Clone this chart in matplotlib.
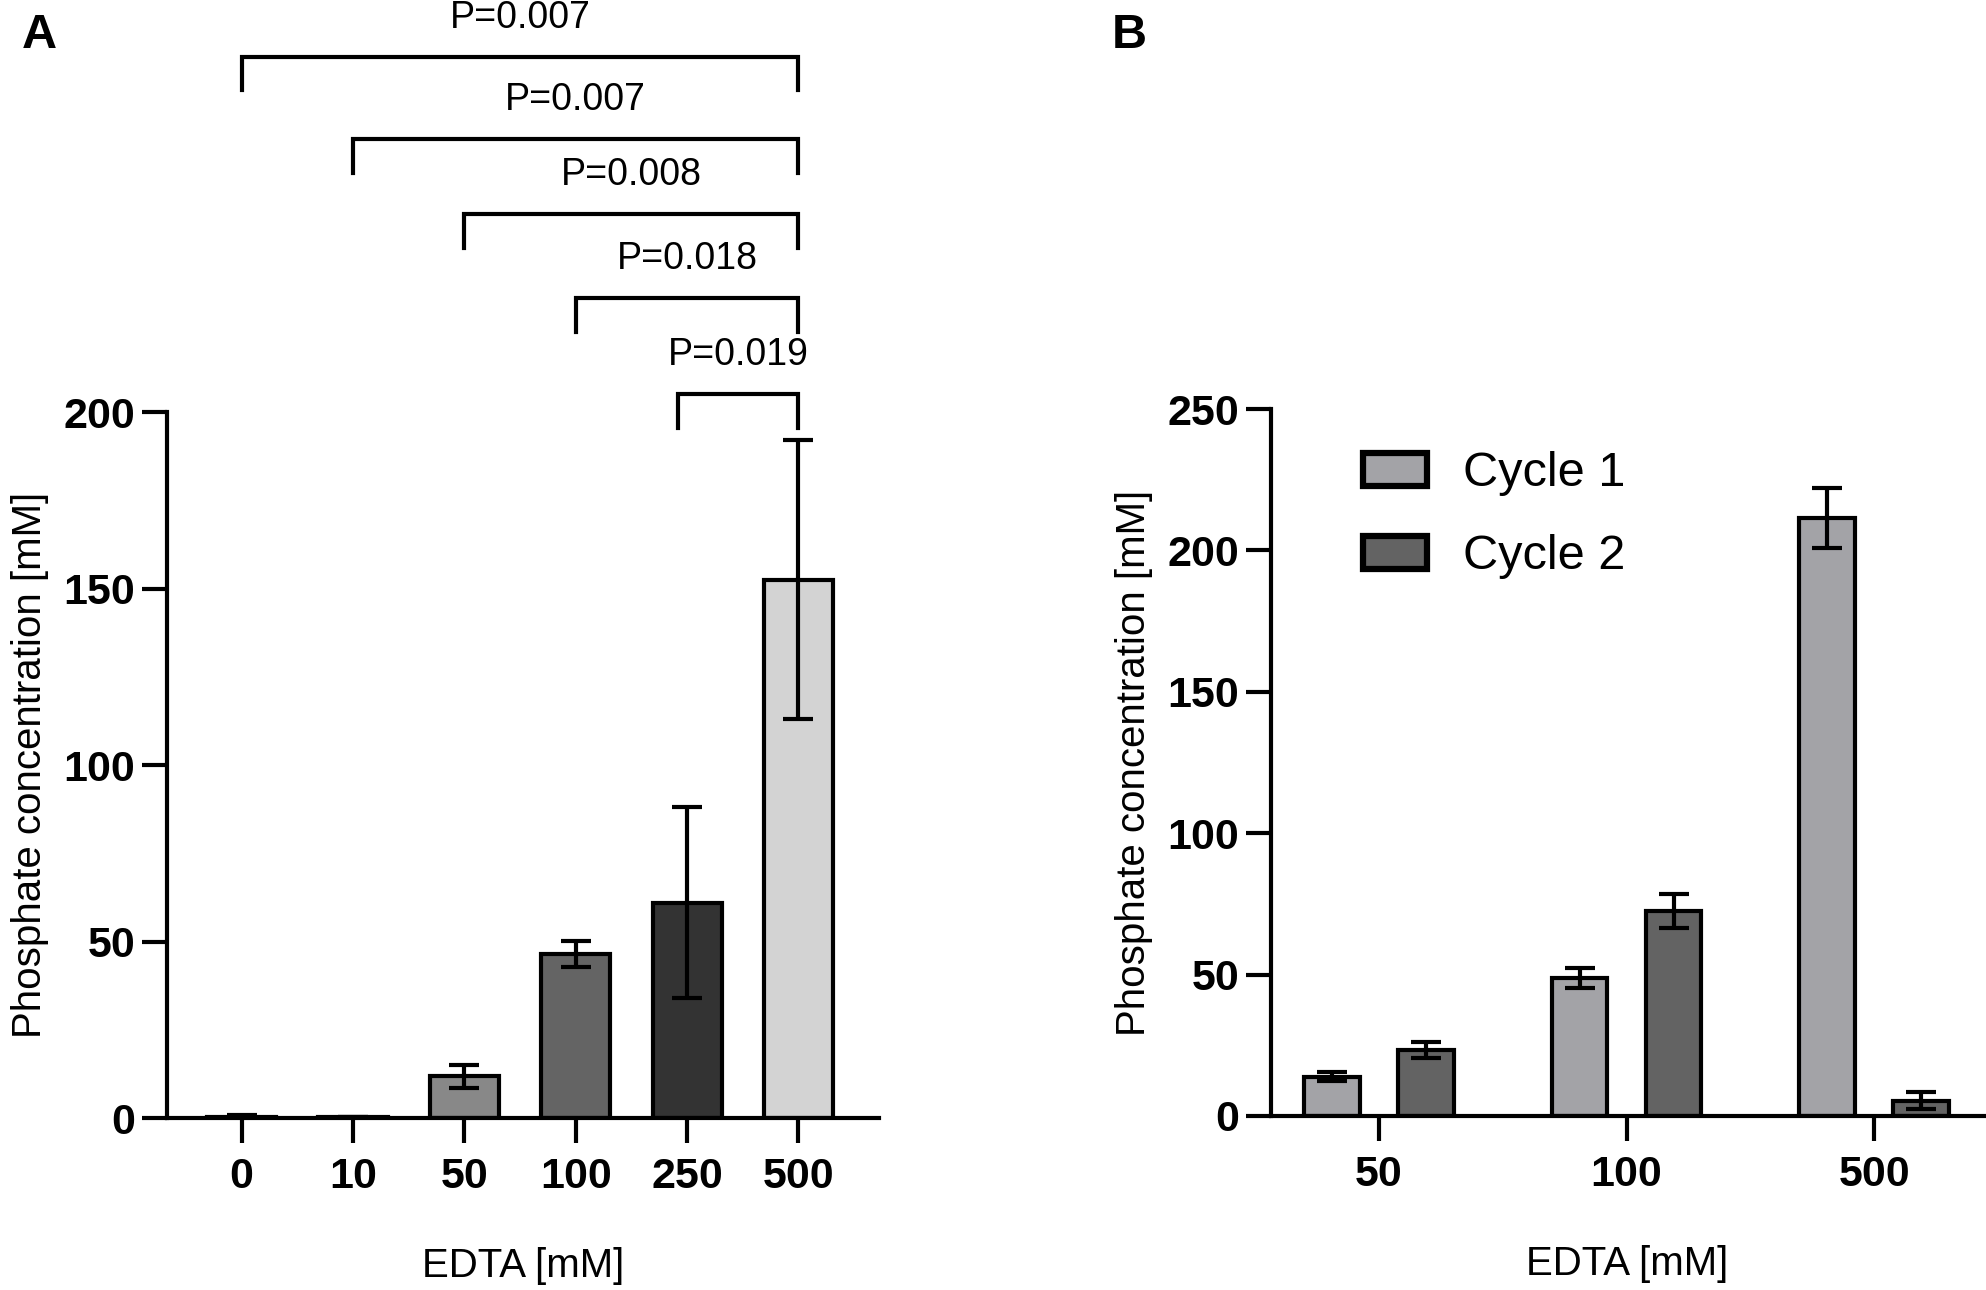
import numpy as np
import matplotlib
matplotlib.use('Agg')
import matplotlib.pyplot as plt

plt.rcParams['font.family'] = ['Liberation Sans', 'DejaVu Sans']

# Panel A data
edta_a = ['0', '10', '50', '100', '250', '500']
phos_a = [0.4, 0.3, 11.8, 46.5, 61.0, 152.5]
err_a = [0.4, 0.0, 3.2, 3.6, 27.0, 39.5]
colors_a = ['#9a9a9a', '#9a9a9a', '#888888', '#646464', '#333333', '#d3d3d3']

# comparisons vs 500 mM: left group index, p-value, bracket height
comp_left = [0, 1, 2, 3, 4]
comp_p = ['P=0.007', 'P=0.007', 'P=0.008', 'P=0.018', 'P=0.019']
comp_y = [300.6, 277.3, 256.1, 232.3, 205.1]

# Panel B data
edta_b = ['50', '100', '500']
cycle1 = [13.9, 48.8, 211.5]
cycle1_err = [1.5, 3.6, 10.7]
cycle2 = [23.3, 72.6, 5.4]
cycle2_err = [2.8, 6.0, 3.0]

LW = 3.0
TICK_FS = 31
LABEL_FS = 29

fig = plt.figure(figsize=(19.86, 12.9), dpi=100)
ax1 = fig.add_axes([0.0841, 0.1333, 0.3583, 0.5473])
ax2 = fig.add_axes([0.640, 0.1349, 0.359, 0.548])


def style_axis(ax):
    for side in ['top', 'right']:
        ax.spines[side].set_visible(False)
    for side in ['left', 'bottom']:
        ax.spines[side].set_linewidth(LW)
    ax.tick_params(axis='both', length=18, width=LW, labelsize=TICK_FS)
    ax.tick_params(axis='x', pad=10)
    ax.tick_params(axis='y', pad=5)
    for lab in ax.get_xticklabels() + ax.get_yticklabels():
        lab.set_fontweight('bold')


# ---- Panel A ----
x = np.arange(len(edta_a))
ax1.bar(x, phos_a, width=0.62, color=colors_a, edgecolor='black', linewidth=LW, zorder=2)
ax1.errorbar(x, phos_a, yerr=err_a, fmt='none', ecolor='black', elinewidth=LW,
             capsize=11, capthick=LW, zorder=3)
ax1.set_xlim(-0.67, 5.72)
ax1.set_ylim(0, 200)
ax1.set_yticks([0, 50, 100, 150, 200])
ax1.set_xticks(x)
ax1.set_xticklabels(edta_a)
ax1.set_xlabel('EDTA [mM]', fontsize=LABEL_FS, labelpad=36)
ax1.set_ylabel('Phosphate concentration [mM]', fontsize=LABEL_FS, labelpad=10)
style_axis(ax1)

# significance brackets
for li, p, yb in zip(comp_left, comp_p, comp_y):
    xl = x[li] if li != 4 else x[li] - 0.08
    xr = x[-1]
    ax1.plot([xl, xl, xr, xr], [yb - 9.5, yb, yb, yb - 9.5], color='black',
             lw=LW, clip_on=False, solid_joinstyle='miter')
    ax1.text((xl + xr) / 2, yb + 11, p, ha='center', va='center', fontsize=27,
             clip_on=False)

# ---- Panel B ----
xb = np.arange(len(edta_b))
off = 0.19
w = 0.225
ax2.bar(xb - off, cycle1, width=w, color='#a3a3a7', edgecolor='black', linewidth=LW,
        label='Cycle 1', zorder=2)
ax2.bar(xb + off, cycle2, width=w, color='#636363', edgecolor='black', linewidth=LW,
        label='Cycle 2', zorder=2)
ax2.errorbar(xb - off, cycle1, yerr=cycle1_err, fmt='none', ecolor='black',
             elinewidth=LW, capsize=11, capthick=LW, zorder=3)
ax2.errorbar(xb + off, cycle2, yerr=cycle2_err, fmt='none', ecolor='black',
             elinewidth=LW, capsize=11, capthick=LW, zorder=3)
ax2.set_xlim(-0.436, 2.444)
ax2.set_ylim(0, 250)
ax2.set_yticks([0, 50, 100, 150, 200, 250])
ax2.set_xticks(xb)
ax2.set_xticklabels(edta_b)
ax2.set_xlabel('EDTA [mM]', fontsize=LABEL_FS, labelpad=36)
ax2.set_ylabel('Phosphate concentration [mM]', fontsize=LABEL_FS, labelpad=10)
style_axis(ax2)
leg = ax2.legend(loc='upper left', bbox_to_anchor=(0.129, 0.94), frameon=False,
                 fontsize=35, handlelength=1.32, handleheight=0.66, labelspacing=0.78,
                 handletextpad=0.74, borderpad=0, borderaxespad=0)
for h in leg.legend_handles:
    h.set_linewidth(4.5)

fig.text(0.011, 0.9628, 'A', fontsize=35, fontweight='bold', va='baseline')
fig.text(0.560, 0.9628, 'B', fontsize=35, fontweight='bold', va='baseline')

fig.savefig('out.png', dpi=100)
